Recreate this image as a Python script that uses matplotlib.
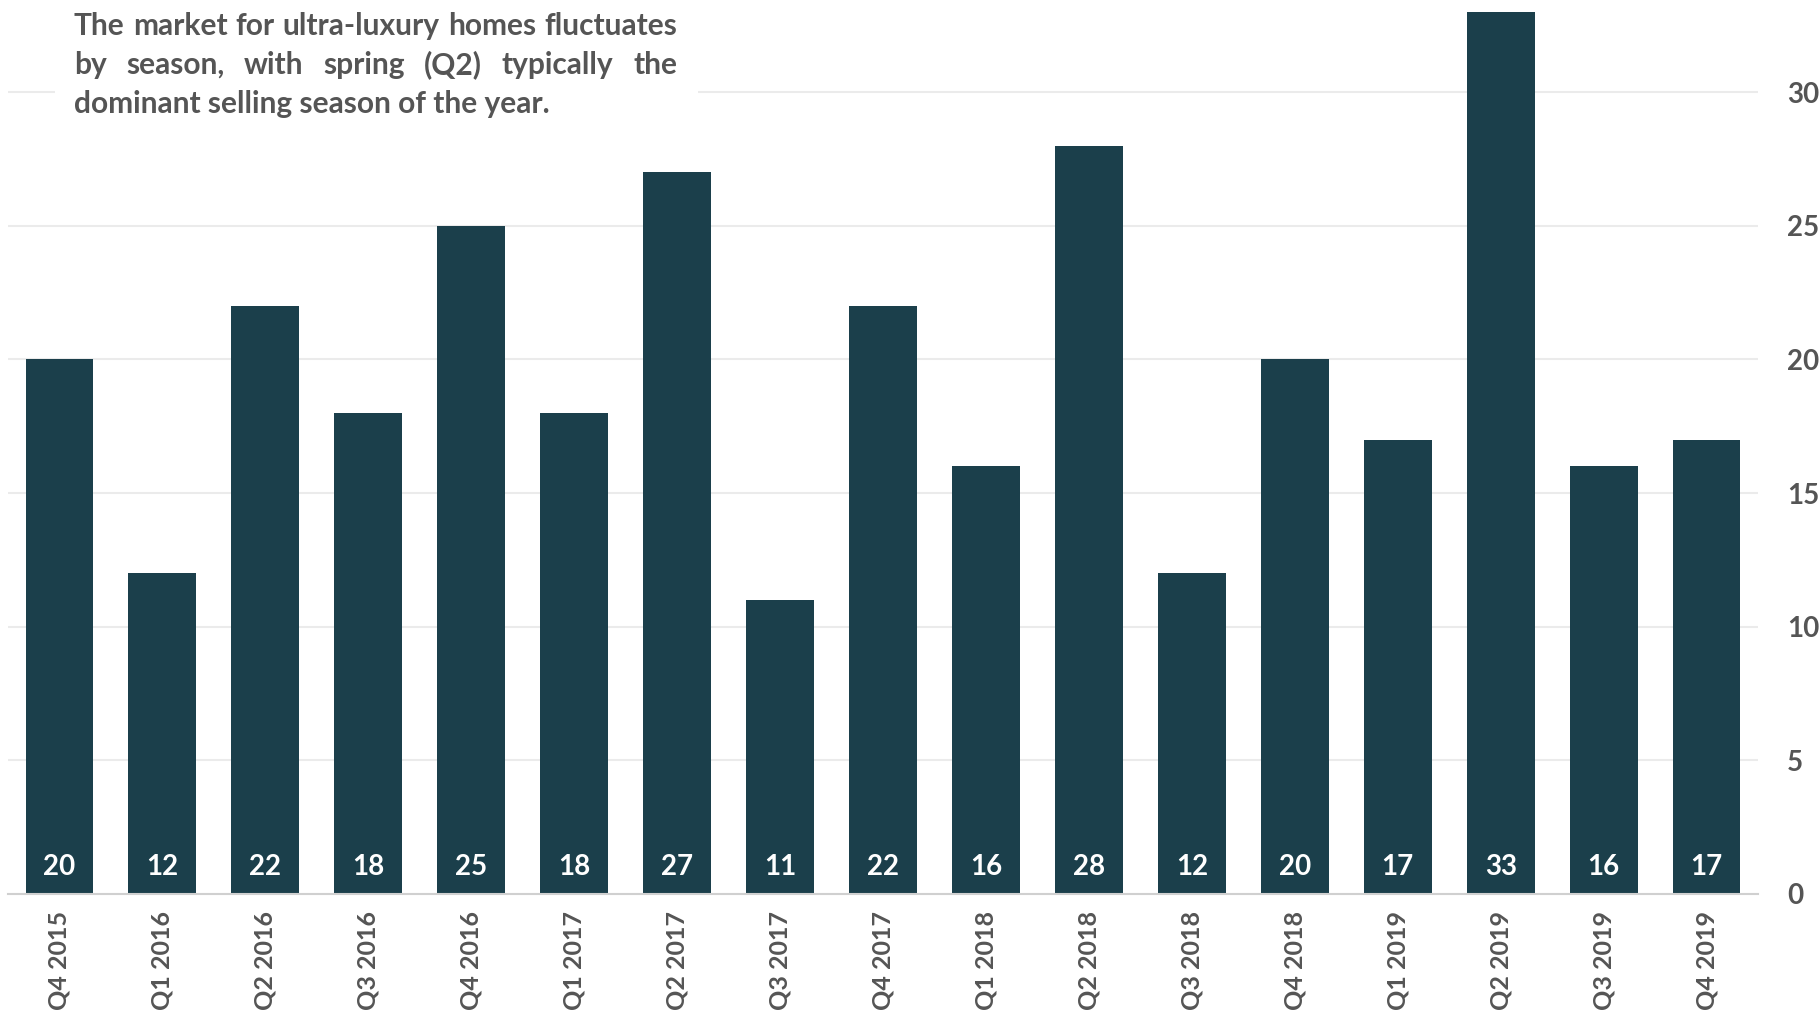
import matplotlib
matplotlib.use("Agg")
from matplotlib import pyplot as plt
from matplotlib.patches import Rectangle

quarters = ["Q4 2015", "Q1 2016", "Q2 2016", "Q3 2016", "Q4 2016", "Q1 2017", "Q2 2017",
            "Q3 2017", "Q4 2017", "Q1 2018", "Q2 2018", "Q3 2018", "Q4 2018", "Q1 2019",
            "Q2 2019", "Q3 2019", "Q4 2019"]
sales = [20, 12, 22, 18, 25, 18, 27, 11, 22, 16, 28, 12, 20, 17, 33, 16, 17]
yticks = [0, 5, 10, 15, 20, 25, 30]
note_lines = ["The market for ultra-luxury homes fluctuates",
              "by season, with spring (Q2) typically the",
              "dominant selling season of the year."]

plt.rcParams['font.family'] = ['Lato', 'DejaVu Sans']
plt.rcParams['font.weight'] = 'bold'
bar_color = "#1b3f4b"
text_color = "#555555"
W, H = 1820, 1014

fig = plt.figure(figsize=(18.2, 10.14), dpi=100)
ax = fig.add_axes([8 / W, 120 / H, 1750 / W, 894 / H])

x = list(range(len(sales)))
ax.bar(x, sales, width=0.66, color=bar_color, zorder=2)
for i, v in enumerate(sales):
    ax.text(i, 1.0, str(v), ha="center", va="center", color="white",
            fontsize=20, fontweight="bold", zorder=3)

ax.set_xlim(-0.5, 16.5)
ax.set_ylim(0, 33.45)
ax.set_yticks(yticks)
ax.yaxis.tick_right()
ax.tick_params(axis="y", length=0, pad=21, labelsize=20, labelcolor=text_color)
ax.set_xticks(x)
ax.set_xticklabels(quarters, rotation=90, fontsize=18, color=text_color, va="top")
ax.tick_params(axis="x", length=0, pad=12)
for lbl in ax.get_xticklabels() + ax.get_yticklabels():
    lbl.set_fontweight("bold")
ax.grid(axis="y", color="#ebebeb", linewidth=1.5, zorder=0)
for s in ["top", "right", "left"]:
    ax.spines[s].set_visible(False)
ax.spines["bottom"].set_color("#d0d0d0")
ax.spines["bottom"].set_linewidth(1.5)
ax.spines["bottom"].set_zorder(4)

# white box behind the note
fig.patches.append(Rectangle((55 / W, 1 - 125 / H), 643 / W, 125 / H, transform=fig.transFigure,
                             facecolor="white", edgecolor="none", zorder=5))

x0, x1 = 74, 677
line_y = [26, 65, 104]
fs = 21.5
for k, line in enumerate(note_lines):
    yy = 1 - line_y[k] / H
    if k == 2:
        fig.text(x0 / W, yy, line, ha="left", va="center", fontsize=fs,
                 fontweight="bold", color=text_color, zorder=6)
        continue
    words = line.split()
    texts = [fig.text(x0 / W, yy, w, ha="left", va="center", fontsize=fs,
                      fontweight="bold", color=text_color, zorder=6) for w in words]
    fig.canvas.draw()
    r = fig.canvas.get_renderer()
    widths = [t.get_window_extent(r).width for t in texts]
    gap = (x1 - x0 - sum(widths)) / (len(words) - 1)
    pos = x0
    for t, wd in zip(texts, widths):
        t.set_x(pos / W)
        pos += wd + gap

fig.savefig("out.png", dpi=100)
